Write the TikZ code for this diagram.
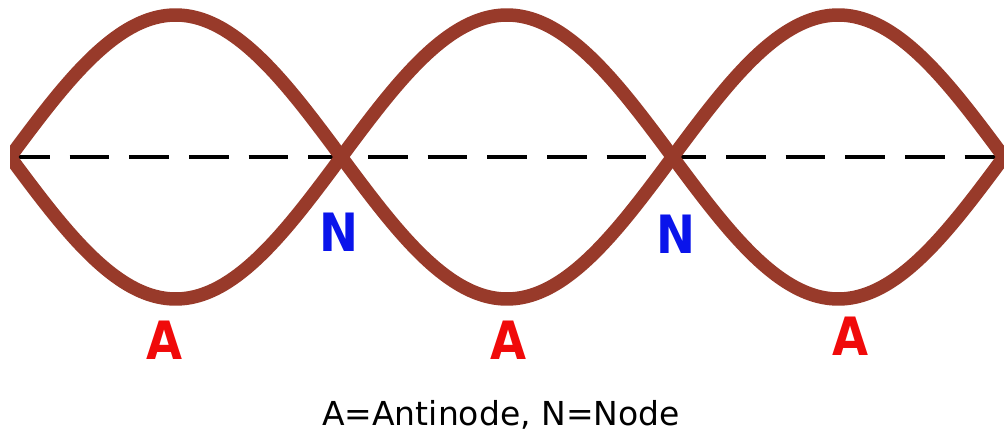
\documentclass[tikz,border=0pt]{standalone}
\usepackage{fontspec}
\setmainfont{DejaVu Sans}
\definecolor{wavebrown}{RGB}{152,58,42}
\definecolor{labred}{RGB}{240,10,10}
\definecolor{labblue}{RGB}{10,20,235}
\newcommand{\tallbox}[1]{\scalebox{0.97}[1.1]{#1}}
\tikzset{
  wavestyle/.style={draw=wavebrown, line width=13.5pt, line join=round},
  axisline/.style={draw=black, line width=4pt, dash pattern=on 39.67pt off 20pt},
  antilabel/.style={text=labred, font=\fontsize{48}{48}\selectfont\bfseries, anchor=base, inner sep=0pt},
  nodelabel/.style={text=labblue, font=\fontsize{48}{48}\selectfont\bfseries, anchor=base, inner sep=0pt},
  captionlabel/.style={text=black, font=\fontsize{33}{33}\selectfont, anchor=base, inner sep=0pt}
}
\begin{document}
\begin{tikzpicture}[x=1pt,y=-1pt]
\useasboundingbox (0,0) rectangle (1004,433);
\coordinate (L) at (10,157);
\coordinate (R) at (1004,157);
\draw[axisline] (L) -- (R);
\begin{scope}
\clip (10,-20) rectangle (1004,453);
\draw[wavestyle] plot[domain=-10:1020, samples=301, smooth] (\x, {157-142*sin(0.54331*(\x-10))});
\draw[wavestyle] plot[domain=-10:1020, samples=301, smooth] (\x, {157+142*sin(0.54331*(\x-10))});
\end{scope}
\node[nodelabel] (n1) at (339,251) {\tallbox{N}};
\node[nodelabel] (n2) at (676,253) {\tallbox{N}};
\node[antilabel] (a1) at (165,359) {\tallbox{A}};
\node[antilabel] (a2) at (509,359) {\tallbox{A}};
\node[antilabel] (a3) at (851,355) {\tallbox{A}};
\node[captionlabel] (cap) at (501,425) {A=Antinode, N=Node};
\end{tikzpicture}
\end{document}
